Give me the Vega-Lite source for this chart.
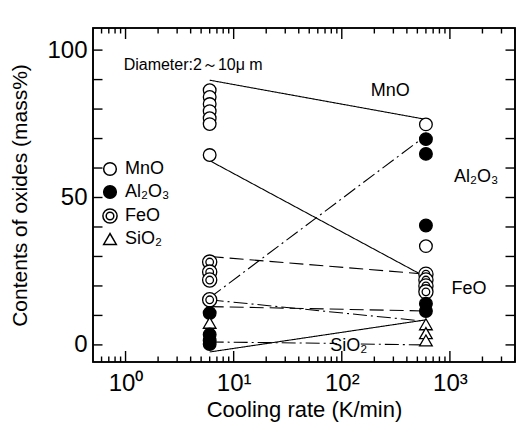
{
  "$schema": "https://vega.github.io/schema/vega-lite/v6.json",
  "width": 422,
  "height": 334,
  "autosize": {"type": "none"},
  "padding": {"left": 93, "top": 28, "right": 2, "bottom": 61},
  "view": {"stroke": "black", "strokeWidth": 1.6, "fill": null},
  "config": {"font": "Liberation Sans"},
  "datasets": {
    "lines": [
      {"line": "A", "style": "solid", "rate": 6, "value": 89.8},
      {"line": "A", "style": "solid", "rate": 600, "value": 76.5},
      {"line": "B", "style": "solid", "rate": 6, "value": 62.5},
      {"line": "B", "style": "solid", "rate": 600, "value": 23},
      {"line": "C", "style": "dashdot", "rate": 6, "value": 16},
      {"line": "C", "style": "dashdot", "rate": 600, "value": 71},
      {"line": "D", "style": "dash", "rate": 6, "value": 30},
      {"line": "D", "style": "dash", "rate": 600, "value": 24},
      {"line": "E", "style": "dash", "rate": 6, "value": 13},
      {"line": "E", "style": "dash", "rate": 600, "value": 11.5},
      {"line": "F", "style": "dashdot", "rate": 6, "value": 15.3},
      {"line": "F", "style": "dashdot", "rate": 600, "value": 8},
      {"line": "G", "style": "solid", "rate": 6, "value": -2.4},
      {"line": "G", "style": "solid", "rate": 600, "value": 8.5},
      {"line": "H1", "style": "dashdot", "rate": 6, "value": 1},
      {"line": "H1", "style": "dashdot", "rate": 90, "value": 0.5},
      {"line": "H2", "style": "dashdot", "rate": 150, "value": 0.3},
      {"line": "H2", "style": "dashdot", "rate": 560, "value": 0}
    ],
    "points": [
      {"series": "MnO", "rate": 6, "value": 86.4},
      {"series": "MnO", "rate": 6, "value": 84.1},
      {"series": "MnO", "rate": 6, "value": 81.7},
      {"series": "MnO", "rate": 6, "value": 79.3},
      {"series": "MnO", "rate": 6, "value": 76.9},
      {"series": "MnO", "rate": 6, "value": 74.9},
      {"series": "MnO", "rate": 6, "value": 64.4},
      {"series": "FeO", "rate": 6, "value": 28.1},
      {"series": "FeO", "rate": 6, "value": 24.7},
      {"series": "FeO", "rate": 6, "value": 22.0},
      {"series": "FeO", "rate": 6, "value": 15.3},
      {"series": "Al₂O₃", "rate": 6, "value": 10.8},
      {"series": "SiO₂", "rate": 6, "value": 7.5},
      {"series": "Al₂O₃", "rate": 6, "value": 3.5},
      {"series": "Al₂O₃", "rate": 6, "value": 1.5},
      {"series": "Al₂O₃", "rate": 6, "value": 0.3},
      {"series": "MnO", "rate": 600, "value": 74.8},
      {"series": "Al₂O₃", "rate": 600, "value": 69.8},
      {"series": "Al₂O₃", "rate": 600, "value": 64.8},
      {"series": "Al₂O₃", "rate": 600, "value": 40.5},
      {"series": "MnO", "rate": 600, "value": 33.5},
      {"series": "FeO", "rate": 600, "value": 24},
      {"series": "FeO", "rate": 600, "value": 22},
      {"series": "FeO", "rate": 600, "value": 20},
      {"series": "FeO", "rate": 600, "value": 18},
      {"series": "Al₂O₃", "rate": 600, "value": 14},
      {"series": "Al₂O₃", "rate": 600, "value": 11.5},
      {"series": "SiO₂", "rate": 600, "value": 7},
      {"series": "SiO₂", "rate": 600, "value": 4},
      {"series": "SiO₂", "rate": 600, "value": 1.5}
    ],
    "labels": [
      {"rate": 280, "value": 86, "text": "MnO"},
      {"rate": 1750, "value": 57, "text": "Al₂O₃"},
      {"rate": 1500, "value": 19, "text": "FeO"},
      {"rate": 116, "value": -0.5, "text": "SiO₂"}
    ],
    "note": [
      {"rate": 0.96, "value": 95, "text": "Diameter:2～10μ m"}
    ],
    "frame": [
      {"x0": 0.5, "x1": 4000, "y0": -5.8, "y1": 107.5}
    ],
    "xticks": [
      {"v": 0.6, "kind": "minor"}, {"v": 0.7, "kind": "minor"}, {"v": 0.8, "kind": "minor"}, {"v": 0.9, "kind": "minor"},
      {"v": 1, "kind": "major"},
      {"v": 2, "kind": "minor"}, {"v": 3, "kind": "minor"}, {"v": 4, "kind": "minor"}, {"v": 5, "kind": "minor"}, {"v": 6, "kind": "minor"}, {"v": 7, "kind": "minor"}, {"v": 8, "kind": "minor"}, {"v": 9, "kind": "minor"},
      {"v": 10, "kind": "major"},
      {"v": 20, "kind": "minor"}, {"v": 30, "kind": "minor"}, {"v": 40, "kind": "minor"}, {"v": 50, "kind": "minor"}, {"v": 60, "kind": "minor"}, {"v": 70, "kind": "minor"}, {"v": 80, "kind": "minor"}, {"v": 90, "kind": "minor"},
      {"v": 100, "kind": "major"},
      {"v": 200, "kind": "minor"}, {"v": 300, "kind": "minor"}, {"v": 400, "kind": "minor"}, {"v": 500, "kind": "minor"}, {"v": 600, "kind": "minor"}, {"v": 700, "kind": "minor"}, {"v": 800, "kind": "minor"}, {"v": 900, "kind": "minor"},
      {"v": 1000, "kind": "major"},
      {"v": 2000, "kind": "minor"}, {"v": 3000, "kind": "minor"}, {"v": 4000, "kind": "minor"}
    ],
    "yticks": [
      {"v": 0}, {"v": 10}, {"v": 20}, {"v": 30}, {"v": 40}, {"v": 50}, {"v": 60}, {"v": 70}, {"v": 80}, {"v": 90}, {"v": 100}
    ]
  },
  "layer": [
    {
      "data": {"name": "lines"},
      "mark": {"type": "line", "color": "black", "strokeWidth": 1.1},
      "encoding": {
        "x": {
          "field": "rate", "type": "quantitative",
          "scale": {"type": "log", "domain": [0.5, 4000], "nice": false},
          "axis": {
            "orient": "bottom", "title": "Cooling rate (K/min)", "titleFontSize": 22, "titlePadding": 4, "titleColor": "black", "titleFontWeight": "normal", "titleFont": "Liberation Sans",
            "values": [1, 10, 100, 1000],
            "labelExpr": "datum.value == 1 ? '10⁰' : datum.value == 10 ? '10¹' : datum.value == 100 ? '10²' : '10³'",
            "labelFontSize": 24, "labelPadding": 9, "labelFlush": false, "labelOverlap": false, "labelColor": "black", "labelFont": "Liberation Sans",
            "grid": false, "domain": false, "ticks": false
          }
        },
        "y": {
          "field": "value", "type": "quantitative",
          "scale": {"domain": [-5.8, 107.5], "nice": false, "zero": false},
          "axis": {
            "orient": "left", "title": "Contents of oxides (mass%)", "titleFontSize": 21, "titlePadding": 16, "titleColor": "black", "titleFontWeight": "normal", "titleFont": "Liberation Sans",
            "values": [0, 50, 100],
            "labelFontSize": 24, "labelPadding": 6, "labelOverlap": false, "labelColor": "black", "labelFont": "Liberation Sans",
            "grid": false, "domain": false, "ticks": false
          }
        },
        "detail": {"field": "line"},
        "strokeDash": {
          "field": "style", "type": "nominal",
          "scale": {"domain": ["solid", "dash", "dashdot"], "range": [[1, 0], [14, 6], [14, 4, 2, 4]]},
          "legend": null
        }
      }
    },
    {
      "data": {"name": "frame"},
      "mark": {"type": "rect", "fill": null, "stroke": "black", "strokeWidth": 1.6, "opacity": 1, "strokeOpacity": 1},
      "encoding": {
        "x": {"field": "x0", "type": "quantitative", "axis": null},
        "x2": {"field": "x1"},
        "y": {"field": "y0", "type": "quantitative", "axis": null},
        "y2": {"field": "y1"}
      }
    },
    {
      "data": {"name": "xticks"},
      "mark": {"type": "tick", "orient": "vertical", "clip": true, "color": "black", "thickness": 1.4, "opacity": 1},
      "encoding": {
        "x": {"field": "v", "type": "quantitative", "axis": null},
        "y": {"datum": -5.8, "type": "quantitative", "axis": null},
        "size": {"field": "kind", "type": "nominal", "scale": {"domain": ["major", "minor"], "range": [22, 11]}, "legend": null}
      }
    },
    {
      "data": {"name": "xticks"},
      "mark": {"type": "tick", "orient": "vertical", "clip": true, "color": "black", "thickness": 1.4, "opacity": 1},
      "encoding": {
        "x": {"field": "v", "type": "quantitative", "axis": null},
        "y": {"datum": 107.5, "type": "quantitative", "axis": null},
        "size": {"field": "kind", "type": "nominal", "scale": {"domain": ["major", "minor"], "range": [22, 11]}, "legend": null}
      }
    },
    {
      "data": {"name": "yticks"},
      "mark": {"type": "tick", "orient": "horizontal", "clip": true, "color": "black", "thickness": 1.4, "opacity": 1, "size": 19},
      "encoding": {
        "x": {"datum": 0.5, "type": "quantitative", "axis": null},
        "y": {"field": "v", "type": "quantitative", "axis": null}
      }
    },
    {
      "data": {"name": "yticks"},
      "mark": {"type": "tick", "orient": "horizontal", "clip": true, "color": "black", "thickness": 1.4, "opacity": 1, "size": 19},
      "encoding": {
        "x": {"datum": 4000, "type": "quantitative", "axis": null},
        "y": {"field": "v", "type": "quantitative", "axis": null}
      }
    },
    {
      "data": {"name": "points"},
      "mark": {"type": "point", "stroke": "black", "opacity": 1, "fillOpacity": 1, "strokeOpacity": 1, "size": 160, "strokeWidth": 1.3},
      "encoding": {
        "x": {"field": "rate", "type": "quantitative", "axis": null},
        "y": {"field": "value", "type": "quantitative", "axis": null},
        "shape": {
          "field": "series", "type": "nominal",
          "scale": {"domain": ["MnO", "Al₂O₃", "FeO", "SiO₂"], "range": ["circle", "circle", "M -1.12 0 A 1.12 1.12 0 1 0 1.12 0 A 1.12 1.12 0 1 0 -1.12 0 Z M -0.6 0 A 0.6 0.6 0 1 0 0.6 0 A 0.6 0.6 0 1 0 -0.6 0 Z", "triangle-up"]},
          "legend": {
            "orient": "none", "legendX": 8, "legendY": 132, "title": null,
            "labelFontSize": 18, "labelColor": "black", "labelFont": "Liberation Sans", "symbolSize": 160,
            "rowPadding": 3, "labelOffset": 6,
            "encode": {"symbols": {
              "stroke": {"value": "black"},
              "fill": {"condition": {"test": "datum.value == 'Al₂O₃'", "value": "black"}, "value": "white"},
              "fillOpacity": {"value": 1},
              "strokeWidth": {"value": 1.3}
            }}
          }
        },
        "fill": {
          "field": "series", "type": "nominal",
          "scale": {"domain": ["MnO", "Al₂O₃", "FeO", "SiO₂"], "range": ["white", "black", "white", "white"]},
          "legend": null
        }
      }
    },
    {
      "data": {"name": "labels"},
      "mark": {"type": "text", "fontSize": 18, "color": "black", "align": "center", "baseline": "middle", "font": "Liberation Sans"},
      "encoding": {
        "x": {"field": "rate", "type": "quantitative", "axis": null},
        "y": {"field": "value", "type": "quantitative", "axis": null},
        "text": {"field": "text"}
      }
    },
    {
      "data": {"name": "note"},
      "mark": {"type": "text", "fontSize": 16, "color": "black", "align": "left", "baseline": "middle", "font": "Liberation Sans"},
      "encoding": {
        "x": {"field": "rate", "type": "quantitative", "axis": null},
        "y": {"field": "value", "type": "quantitative", "axis": null},
        "text": {"field": "text"}
      }
    }
  ],
  "resolve": {"axis": {"x": "independent", "y": "independent"}}
}
